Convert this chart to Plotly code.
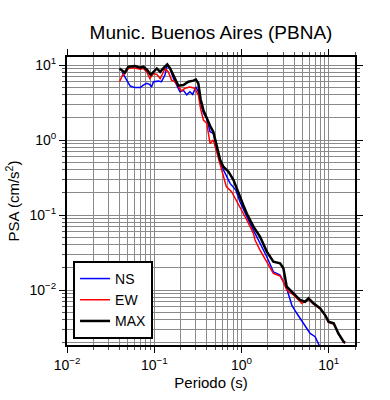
import plotly.graph_objects as go
import math

# ---- data ----
max_T = [0.040, 0.046, 0.0505, 0.060, 0.069, 0.075, 0.083, 0.091, 0.107, 0.117, 0.130, 0.141,
         0.152, 0.166, 0.189, 0.216, 0.246, 0.28, 0.30, 0.32, 0.34, 0.366, 0.40, 0.436, 0.476,
         0.52, 0.57, 0.62, 0.71, 0.81, 0.92, 1.05, 1.15, 1.37, 1.63, 1.95, 2.32, 2.77, 3.02,
         3.30, 3.94, 4.70, 5.36, 5.86, 6.69, 7.98, 9.1, 9.95, 11.4, 12.9, 14.8, 15.4]
max_psa = [9.0, 7.9, 9.5, 9.7, 9.2, 9.5, 8.6, 7.4, 9.0, 8.1, 9.3, 10.2,
           9.0, 7.4, 5.3, 5.4, 6.0, 6.2, 6.4, 5.7, 3.5, 2.5, 1.95, 1.55, 1.28,
           0.81, 0.54, 0.44, 0.378, 0.293, 0.195, 0.135, 0.105, 0.070, 0.0514, 0.0325, 0.0239, 0.0227, 0.0195,
           0.0111, 0.0090, 0.00736, 0.00699, 0.00774, 0.00664, 0.0057, 0.00464, 0.00379, 0.0036, 0.00264, 0.00205, 0.00198]

ew_T = [0.040, 0.0435, 0.046, 0.0505, 0.0575, 0.069, 0.075, 0.082, 0.089, 0.098, 0.107, 0.117,
        0.125, 0.133, 0.145, 0.158, 0.172, 0.189, 0.206, 0.225, 0.256, 0.29, 0.32, 0.34, 0.366,
        0.40, 0.436, 0.476, 0.52, 0.59, 0.67, 0.77, 0.87, 1.0, 1.15, 1.37, 1.43, 1.63, 1.95,
        2.32, 2.77, 3.02, 3.30, 3.94, 4.92, 5.36, 5.86, 6.69, 7.98, 9.1, 9.95, 11.4, 12.9, 14.8, 15.4]
ew_psa = [6.0, 7.4, 7.7, 9.0, 9.2, 8.8, 9.0, 8.1, 6.6, 7.7, 7.5, 6.6,
          7.7, 9.0, 8.1, 6.3, 6.0, 5.1, 4.5, 4.9, 5.1, 4.9, 4.0, 2.6, 1.85,
          1.67, 0.90, 1.0, 0.70, 0.42, 0.239, 0.205, 0.158, 0.117, 0.0858, 0.057, 0.0464, 0.0341, 0.0239,
          0.0167, 0.0154, 0.0129, 0.010, 0.00858, 0.00664, 0.00713, 0.0075, 0.0065, 0.0056, 0.00455,
          0.0037, 0.0035, 0.0026, 0.00202, 0.00195]

ns_T = [0.043, 0.048, 0.053, 0.060, 0.069, 0.075, 0.082, 0.089, 0.093, 0.098, 0.111, 0.121,
        0.133, 0.141, 0.152, 0.166, 0.18, 0.197, 0.216, 0.236, 0.256, 0.276, 0.30, 0.32, 0.34,
        0.366, 0.40, 0.436, 0.476, 0.52, 0.57, 0.65, 0.74, 0.86, 0.96, 1.25, 1.63, 1.95, 2.32,
        2.77, 3.30, 3.77, 4.3, 5.13, 6.12, 6.98, 7.76, 8.2]
ns_psa = [8.0, 6.3, 5.25, 5.0, 5.0, 5.4, 5.7, 5.5, 5.1, 6.0, 6.1, 6.0,
          7.4, 10.0, 9.0, 6.6, 5.4, 4.4, 4.6, 4.0, 4.4, 4.06, 5.1, 4.4, 3.1,
          2.3, 1.95, 1.29, 1.23, 0.81, 0.49, 0.36, 0.264, 0.215, 0.15, 0.0775, 0.042, 0.0278, 0.0175,
          0.0158, 0.0105, 0.0063, 0.0049, 0.0036, 0.00264, 0.00239, 0.00185, 0.0016]

x_tickvals = [0.01, 0.1, 1, 10]
x_ticktext = ["10<sup>−2</sup>", "10<sup>−1</sup>", "10<sup>0</sup>", "10<sup>1</sup>"]
y_tickvals = [0.01, 0.1, 1, 10]
y_ticktext = ["10<sup>−2</sup>", "10<sup>−1</sup>", "10<sup>0</sup>", "10<sup>1</sup>"]

FONT = "Liberation Sans, Arial, sans-serif"

fig = go.Figure()
fig.add_trace(go.Scatter(x=ns_T, y=ns_psa, mode="lines", name="NS",
                         line=dict(color="#0000ff", width=1.5)))
fig.add_trace(go.Scatter(x=ew_T, y=ew_psa, mode="lines", name="EW",
                         line=dict(color="#ff0000", width=1.5)))
fig.add_trace(go.Scatter(x=max_T, y=max_psa, mode="lines", name="MAX",
                         line=dict(color="#000000", width=2.5)))

grid_col = "#8a8a8a"
axis_common = dict(
    type="log", showline=True, linecolor="black", linewidth=2, mirror="ticks",
    ticks="outside", ticklen=6, tickwidth=1, tickcolor="black",
    showgrid=True, gridcolor=grid_col, gridwidth=1, zeroline=False, automargin=False,
    tickfont=dict(size=14, color="black", family=FONT),
    minor=dict(ticks="outside", ticklen=3, tickcolor="#555", showgrid=True,
               gridcolor=grid_col, gridwidth=1, dtick="D1"),
)

fig.update_layout(
    width=390, height=400,
    margin=dict(l=67, r=35, t=57, b=55, autoexpand=False),
    paper_bgcolor="white", plot_bgcolor="white",
    font=dict(family=FONT, color="black"),
    title=dict(text="Munic. Buenos Aires (PBNA)", x=(67 + 355) / 2 / 390, xanchor="center",
               y=1 - 32 / 400, yanchor="middle", font=dict(size=19, family=FONT)),
    xaxis=dict(axis_common, range=[-2, math.log10(20)], tickvals=x_tickvals, ticktext=x_ticktext,
               title=dict(text="Periodo (s)", font=dict(size=15), standoff=6)),
    yaxis=dict(axis_common, range=[math.log10(0.00185), 1.107], tickvals=y_tickvals, ticktext=y_ticktext,
               title=dict(text="PSA (cm/s<sup>2</sup>)", font=dict(size=15), standoff=6)),
    legend=dict(x=0.021, y=0.021, xanchor="left", yanchor="bottom",
                bgcolor="white", bordercolor="black", borderwidth=2,
                font=dict(size=14, family=FONT), tracegroupgap=0,
                itemwidth=30),
    showlegend=True,
)

fig.write_html("out.html", config={"displayModeBar": False},
               post_script="document.body.style.margin='0';")
